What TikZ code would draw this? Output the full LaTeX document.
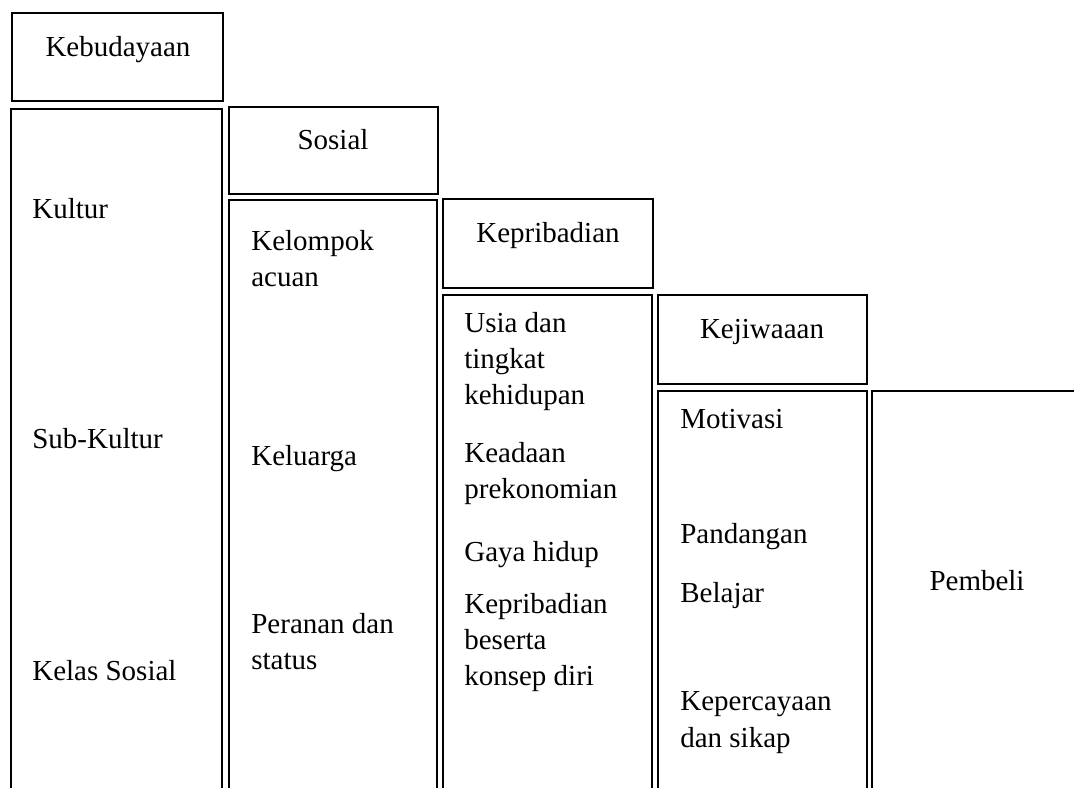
\documentclass[tikz,border=0pt]{standalone}
\usepackage{fontspec}
\setmainfont{Liberation Serif}

\begin{document}
\begin{tikzpicture}[
  x=0.02cm, y=-0.02cm,
  panel/.style={draw, line width=1.4pt},
  head/.style={inner sep=0pt, anchor=base, font=\fontsize{16.5}{20.66}\selectfont},
  item/.style={inner sep=0pt, anchor=north west, align=left,
    font=\fontsize{16.5}{20.66}\selectfont, execute at begin node=\strut}
]
\useasboundingbox (0,0) rectangle (1074,787);
\clip (0,0) rectangle (1074,787);
% kotak judul
\draw[panel] (12,13) rectangle (223,101);
\draw[panel] (229,107) rectangle (438,194);
\draw[panel] (443,199) rectangle (653,288);
\draw[panel] (658,295) rectangle (867,384);
% kolom isi
\draw[panel] (11,109) rectangle (222,830);
\draw[panel] (229,200) rectangle (437,830);
\draw[panel] (443,295) rectangle (652,830);
\draw[panel] (658,391) rectangle (867,830);
\draw[panel] (872,391) rectangle (1110,830);
% judul
\node[head] (kebudayaan) at (118,57) {Kebudayaan};
\node[head] (sosial) at (333,150) {Sosial};
\node[head] (kepribadian) at (548,242) {Kepribadian};
\node[head] (kejiwaan) at (762,338) {Kejiwaaan};
\node[head] (pembeli) at (977,590) {Pembeli};
% isi kolom
\node[item] (kultur) at (32,192.6) {Kultur};
\node[item] (subkultur) at (32,422.6) {Sub-Kultur};
\node[item] (kelas) at (32,654.6) {Kelas Sosial};
\node[item] (acuan) at (251,229.6) {Kelompok\\acuan};
\node[item] (keluarga) at (251,439.6) {Keluarga};
\node[item] (peranan) at (251,612.6) {Peranan dan\\status};
\node[item] (usia) at (464,311.6) {Usia dan\\tingkat\\kehidupan};
\node[item] (ekonomi) at (464,441.6) {Keadaan\\prekonomian};
\node[item] (gaya) at (464,535.6) {Gaya hidup};
\node[item] (konsep) at (464,592.6) {Kepribadian\\beserta\\konsep diri};
\node[item] (motivasi) at (680,402.6) {Motivasi};
\node[item] (pandangan) at (680,517.6) {Pandangan};
\node[item] (belajar) at (680,576.6) {Belajar};
\node[item] (sikap) at (680,691.6) {Kepercayaan\\dan sikap};
\end{tikzpicture}
\end{document}
